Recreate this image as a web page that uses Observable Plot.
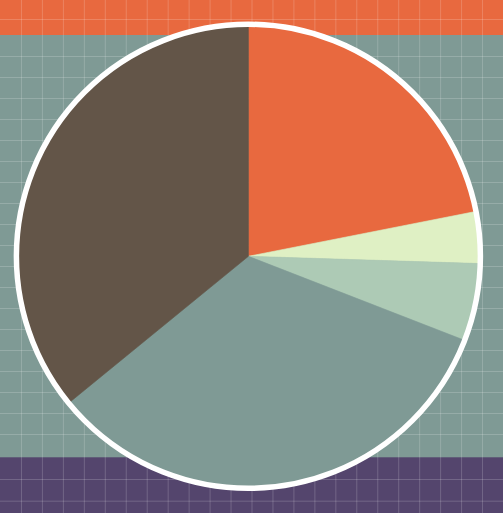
<!DOCTYPE html>
<html>
<head>
<meta charset="utf-8">
<script src="https://cdn.jsdelivr.net/npm/d3@7"></script>
<script src="https://cdn.jsdelivr.net/npm/@observablehq/plot@0.6"></script>
<style>
  html, body { margin: 0; padding: 0; background: #7F9A95; overflow: hidden; }
  #chart svg { display: block; }
</style>
</head>
<body>
<div id="chart"></div>
<script>
// ---- data ----
const categories = ["Category A", "Category B", "Category C", "Category D", "Category E"];
const shares = [21.9, 3.6, 5.4, 33.2, 35.9];
const sliceColors = ["#E8693F", "#DFF0C4", "#ADCAB5", "#7F9A95", "#635548"];

// background bands (decorative)
const bandNames = ["top", "middle", "bottom"];
const bandColors = ["#E8693F", "#7F9A95", "#54456D"];

const W = 503, H = 513;
const bandEdges = [[0, 35], [35, 457.3], [457.3, H]];
const bands = bandNames.map((n, i) => ({name: n, y1: bandEdges[i][0], y2: bandEdges[i][1], fill: bandColors[i]}));

// grid lines
const vLines = d3.range(1, 24).map(i => i * W / 24);
const hLines = [19]
  .concat(d3.range(1, 20).map(k => 35 + 21 * k))
  .concat([457.3 + 21.7, 457.3 + 43.4]);

const pieData = categories.map((c, i) => ({category: c, value: shares[i], color: sliceColors[i]}));
const arcs = d3.pie().sort(null).value(d => d.value)(pieData);

const center = {x: 248.4, y: 256.3};
const R = 231.5;

function pieMark(index, scales) {
  const {x, y} = scales;
  const cx = x(center.x), cy = y(center.y);
  const r = x(center.x + R) - cx;
  const arcGen = d3.arc().innerRadius(0).outerRadius(r);
  const g = d3.create("svg:g").attr("transform", `translate(${cx},${cy})`);
  g.selectAll("path.slice")
    .data(arcs)
    .join("path")
    .attr("class", "slice")
    .attr("d", arcGen)
    .attr("fill", d => d.data.color)
    .attr("stroke", d => d.data.color)
    .attr("stroke-width", 0.6);
  g.append("circle")
    .attr("r", r + 0.5)
    .attr("fill", "none")
    .attr("stroke", "white")
    .attr("stroke-width", 5.5);
  return g.node();
}

const chart = Plot.plot({
  width: W,
  height: H,
  margin: 0,
  style: {background: "transparent", overflow: "visible"},
  x: {domain: [0, W], range: [0, W], axis: null},
  y: {domain: [0, H], range: [0, H], axis: null},
  marks: [
    Plot.rect(bands, {x1: 0, x2: W, y1: "y1", y2: "y2", fill: d => d.fill}),
    Plot.ruleX(vLines, {x: d => d, stroke: "white", strokeOpacity: 0.18, strokeWidth: 1}),
    Plot.ruleY(hLines, {y: d => d, stroke: "white", strokeOpacity: 0.18, strokeWidth: 1}),
    pieMark
  ]
});
document.getElementById("chart").appendChild(chart);
</script>
</body>
</html>
